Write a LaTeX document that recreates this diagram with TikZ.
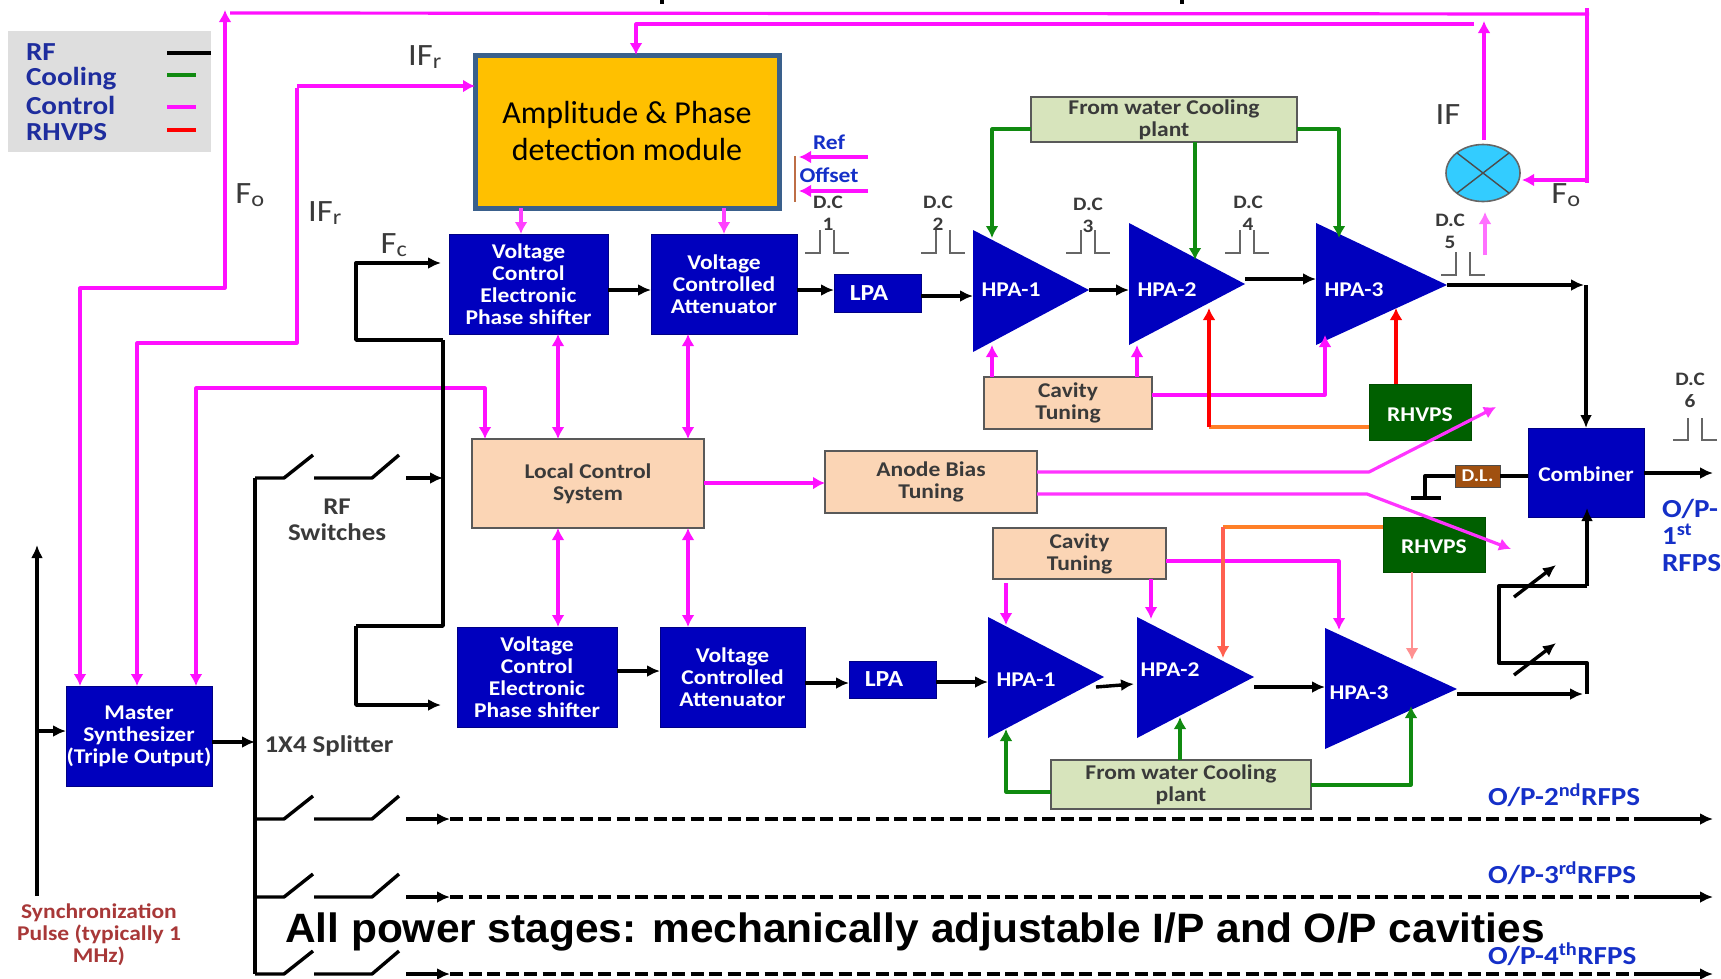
\documentclass[tikz,border=0pt]{standalone}
\usepackage{fontspec}
\setmainfont[FakeStretch=1.12]{Carlito}
\newfontfamily\ampf{Carlito}
\newfontfamily\arialf[FakeStretch=1.036]{Liberation Sans}
\usetikzlibrary{arrows.meta,shapes.geometric}
\definecolor{bblue}{HTML}{0000BE}
\definecolor{peach}{HTML}{FBD5B5}
\definecolor{lgreen}{HTML}{D7E4BC}
\definecolor{dgreen}{HTML}{006000}
\definecolor{ctlc}{HTML}{FF10FF}
\definecolor{coolc}{HTML}{108A10}
\definecolor{navy}{HTML}{1E2D9E}
\definecolor{opblue}{HTML}{1530C8}
\definecolor{maroon}{HTML}{A83838}
\definecolor{txt}{HTML}{3A3A3A}
\definecolor{ampfill}{HTML}{FFC000}
\definecolor{ampdraw}{HTML}{3A608C}
\definecolor{mixfill}{HTML}{33CCFF}
\definecolor{dlfill}{HTML}{A05010}
\definecolor{hvorange}{HTML}{FF7F27}
\definecolor{hvcoral}{HTML}{FF6050}
\definecolor{hvpink}{HTML}{FF9090}
\definecolor{brk}{HTML}{BE6E46}
\newcommand{\fs}[2]{\fontsize{#1}{#2}\selectfont}
\tikzset{
  every node/.style={inner sep=0pt,outer sep=0pt,align=center},
  lowered/.style={execute at begin node=\rule{0pt}{19pt}},
  blk/.style={fill=bblue,draw=bblue!70!black,line width=0.8pt,text=white,font=\bfseries\fs{21}{22}},
  pch/.style={fill=peach,draw=black!65,line width=1.6pt,text=txt,font=\bfseries\fs{21}{22}},
  grn/.style={fill=lgreen,draw=black!65,line width=1.6pt,text=txt,font=\bfseries\fs{21}{22}},
  rhv/.style={lowered,fill=dgreen,draw=dgreen!80!black,line width=1pt,text=white,font=\bfseries\fs{21}{22}},
  lab/.style={text=txt,font=\fs{31}{32}},
  small/.style={text=txt,font=\bfseries\fs{24}{26}},
  dclab/.style={text=txt,font=\bfseries\fs{19}{22}},
  oplab/.style={text=opblue,font=\bfseries\fs{26}{27}},
  leg/.style={text=navy,font=\bfseries\fs{26}{26},anchor=west},
  rf/.style={draw=black,line width=3.4pt,line join=round,-{Latex[length=13pt,width=12pt]}},
  rfn/.style={draw=black,line width=3.4pt,line join=round},
  dsh/.style={draw=black,line width=3.4pt,dash pattern=on 13pt off 5.5pt},
  ctl/.style={draw=ctlc,line width=3.2pt,line join=round,-{Latex[length=12pt,width=13pt]}},
  ctln/.style={draw=ctlc,line width=3.2pt,line join=round},
  ctld/.style={ctl,{Latex[length=12pt,width=13pt]}-{Latex[length=12pt,width=13pt]}},
  cool/.style={draw=coolc,line width=3.2pt,line join=round,-{Latex[length=12pt,width=13pt]}},
  hv/.style={line width=3.2pt,line join=round,-{Latex[length=12pt,width=13pt]}},
  pulse/.style={draw=black!60,line width=2.2pt},
  sw/.style={draw=black,line width=3.4pt,line join=round},
}
\newcommand{\bx}[7]{%
  \pgfmathsetmacro\cxx{(#2+#4)/2}\pgfmathsetmacro\cyy{(#3+#5)/2}%
  \pgfmathsetmacro\wwx{#4-#2}\pgfmathsetmacro\hhx{#5-#3}%
  \node[#6,minimum width=\wwx pt,minimum height=\hhx pt] (#1) at (\cxx,\cyy) {#7};}
\newcommand{\tri}[6]{%
  \fill[bblue] (#2,#3) -- (#5,#6) -- (#2,#4) -- cycle;
  \coordinate (#1) at (#5,#6);
  \coordinate (#1w) at (#2,#6);}
\newcommand{\pulsep}[3]{%
  \draw[pulse] (#1,#2) -- ++(15,0) -- ++(0,-#3);
  \draw[pulse] (#1+29,#2-#3) -- ++(0,#3) -- ++(15,0);}
\newcommand{\swt}[2]{%
  \draw[sw] (spl |- 0,#1) -- (284,#1) -- (313,#1-23);
  \draw[sw] (314,#1) -- (372,#1) -- (399,#1-23);}
\begin{document}
\begin{tikzpicture}[x=1pt,y=-1pt]
\useasboundingbox (0,0) rectangle (1721,978);
\fill[white] (0,0) rectangle (1721,978);
% cut-off stubs at the top edge
\fill[black] (660,0) rectangle (664,4);
\fill[black] (1180,0) rectangle (1184,4);
% legend
\bx{legend}{8}{31}{211}{152}{fill=black!13}{}
\node[leg] (lrf) at (26,52) {RF};
\node[leg] (lcool) at (26,79) {Cooling};
\node[leg] (lctl) at (26,105) {Control};
\node[leg] (lrh) at (26,132) {RHVPS};
\coordinate (la1) at (167,53); \coordinate (la2) at (211,53);
\coordinate (lb1) at (167,75); \coordinate (lb2) at (196,75);
\coordinate (lc1) at (167,107); \coordinate (lc2) at (196,107);
\coordinate (ld1) at (167,130); \coordinate (ld2) at (196,130);
\draw[rfn] (la1) -- (la2);
\draw[coolc,line width=3.2pt] (lb1) -- (lb2);
\draw[ctln] (lc1) -- (lc2);
\draw[red,line width=3.2pt] (ld1) -- (ld2);
% boxes
\bx{amp}{475}{55}{779}{208}{fill=ampfill,draw=ampdraw,line width=5pt,font=\ampf\fs{32}{37}}{Amplitude \& Phase\\detection module}
\bx{vps1}{449}{234}{608}{334}{blk}{Voltage\\Control\\Electronic\\Phase shifter}
\bx{vca1}{651}{234}{797}{334}{blk}{Voltage\\Controlled\\Attenuator}
\bx{lpa1}{834}{274}{921}{312}{blk,font=\bfseries\fs{23}{22}}{LPA\hspace{17pt}}
\bx{lcs}{472}{439}{704}{528}{pch}{Local Control\\System}
\bx{anode}{825}{451}{1037}{513}{pch}{Anode Bias\\Tuning}
\bx{cool1}{1031}{97}{1297}{142}{grn}{From water Cooling\\plant}
\bx{cav1}{984}{377}{1152}{429}{pch}{Cavity\\Tuning}
\bx{rh1}{1369}{384}{1471}{440}{rhv}{RHVPS}
\bx{comb}{1528}{428}{1644}{517}{blk,lowered}{Combiner}
\bx{dl}{1455}{465}{1500}{487}{fill=dlfill,draw=black!70,line width=1pt,text=white,font=\bfseries\fs{18}{20}}{D.L.}
\bx{vps2}{457}{627}{617}{727}{blk}{Voltage\\Control\\Electronic\\Phase shifter}
\bx{vca2}{660}{627}{805}{727}{blk}{Voltage\\Controlled\\Attenuator}
\bx{lpa2}{849}{661}{936}{698}{blk,font=\bfseries\fs{23}{22}}{LPA\hspace{17pt}}
\bx{cav2}{993}{528}{1166}{579}{pch}{Cavity\\Tuning}
\bx{rh2}{1383}{517}{1485}{572}{rhv}{RHVPS}
\bx{cool2}{1051}{760}{1311}{809}{grn}{From water Cooling\\plant}
\bx{master}{66}{686}{212}{786}{blk}{Master\\Synthesizer\\(Triple Output)}
\node[ellipse,fill=mixfill,draw=black!60,line width=1.6pt,minimum width=74pt,minimum height=57pt] (mix) at (1483,173) {};
\draw[black!70,line width=1.4pt] (mix.north west) -- (mix.south east) (mix.north east) -- (mix.south west);
% amplifiers
\tri{a1}{973}{230}{352}{1089}{290}
\tri{a2}{1129}{223}{345}{1245}{284}
\tri{a3}{1316}{223}{345}{1447}{285}
\tri{b1}{988}{617}{738}{1104}{677}
\tri{b2}{1137}{617}{738}{1254}{677}
\tri{b3}{1325}{628}{749}{1457}{689}
\tikzset{hpat/.style={text=white,font=\bfseries\fs{21}{22}}}
\node[hpat] (ta1) at (1011,290) {HPA-1};
\node[hpat] (ta2) at (1167,290) {HPA-2};
\node[hpat] (ta3) at (1354,290) {HPA-3};
\node[hpat] (tb1) at (1026,680) {HPA-1};
\node[hpat] (tb2) at (1170,670) {HPA-2};
\node[hpat] (tb3) at (1359,693) {HPA-3};
% free ends on amplifiers
\coordinate (ca1) at (992,238); \coordinate (ca2) at (1195,260); \coordinate (ca3) at (1339,238);
\coordinate (cta1) at (992,345); \coordinate (cta2) at (1137,345); \coordinate (cta3) at (1325,335);
\coordinate (ra2) at (1209,308); \coordinate (ra3) at (1396,308);
\coordinate (cb1) at (1006,729); \coordinate (cb2) at (1180,717); \coordinate (cb3) at (1411,706);
\coordinate (ctb1) at (1006,625); \coordinate (ctb2) at (1151,619); \coordinate (ctb3) at (1339,630);
\coordinate (rb2) at (1223,658); \coordinate (rb3) at (1412,660);
% splitter
\coordinate (spl) at (255,478);
\draw[rfn] (spl) -- (255,974);
\swt{478}{}\swt{819}{}\swt{897}{}\swt{974}{}
\coordinate (sa) at (406,478);
\draw[rf] (sa) -- (443,478);
% top feedback lines
\coordinate (topa) at (230,13); \coordinate (topb) at (1589,14); \coordinate (topc) at (1587,8); \coordinate (topd) at (1587,183);
\coordinate (arrf) at (225,10);
\draw[ctld] (master.north -| 80,0) -- (80,288) -- (225,288) -- (arrf);
\draw[ctln] (topa) -- (topb);
\draw[ctln] (topc) -- (topd);
\draw[ctl] (1587,180) -- (1522,180);
\coordinate (ifend) at (1484,21);
\draw[ctl] (1484,140) -- (ifend);
\draw[ctl] (1474,24) -- (636,24) -- (amp.north -| 636,0);
\draw[ctl,{Latex[length=12pt,width=13pt]}-] (master.north -| 137,0) -- (137,343) -- (297,343) -- (297,88);
\draw[ctl] (297,86) -- (amp.west |- 0,86);
\draw[ctld] (master.north -| 196,0) -- (196,388) -- (485,388) -- (lcs.north -| 485,0);
% amp module to blocks
\draw[ctl,draw=ctlc!80!white] (amp.south -| 521,0) -- (vps1.north -| 521,0);
\draw[ctl,draw=ctlc!80!white] (amp.south -| vca1.north) -- (vca1.north);
% ref / offset
\coordinate (rfa) at (868,157); \coordinate (rfb) at (799,157); \coordinate (ofa) at (868,191); \coordinate (ofb) at (799,191);
\draw[ctl] (rfa) -- (rfb);
\draw[ctl] (ofa) -- (ofb);
\draw[draw=brk,line width=2pt] (795,156) -- (795,202);
% double arrows
\draw[ctld] (vps1.south -| 558,0) -- (lcs.north -| 558,0);
\draw[ctld] (vca1.south -| 688,0) -- (lcs.north -| 688,0);
\draw[ctld] (lcs.south -| 558,0) -- (vps2.north -| 558,0);
\draw[ctld] (lcs.south -| 688,0) -- (vca2.north -| 688,0);
\draw[ctl] (lcs.east |- 0,483) -- (anode.west |- 0,483);
% anode lines
\coordinate (ana) at (1496,407); \coordinate (anb) at (1511,549);
\draw[ctl,draw=ctlc!85!white] (anode.east |- 0,472) -- (1369,472) -- (ana);
\draw[ctl,draw=ctlc!85!white] (anode.east |- 0,494) -- (1367,494) -- (anb);
% RF chains
\coordinate (fca) at (443,340);
\draw[rf] (fca) -- (356,340) -- (356,263) -- (441,263);
\draw[rfn] (fca) -- (443,626) -- (356,626);
\draw[rf] (356,626) -- (356,705) -- (441,705);
\draw[rf] (vps1.east |- 0,290) -- (vca1.west |- 0,290);
\draw[rf] (vca1.east |- 0,290) -- (lpa1.west |- 0,290);
\draw[rf] (lpa1.east |- 0,296) -- (a1w |- 0,296);
\draw[rf] (a1) -- (a2w |- a1);
\draw[rf] (1245,279) -- (a3w |- 0,279);
\draw[rf] (a3) -- (1584,285);
\draw[rf] (1586,285) -- (comb.north);
\draw[rf] (comb.east |- 0,473) -- (1713,473);
\draw[rfn] (comb.west |- dl) -- (dl.east);
\draw[rfn] (dl.west) -- (1425,476) -- (1425,498);
\draw[rfn] (1411,498) -- (1441,498);
\draw[rf] (vps2.east |- 0,671) -- (vca2.west |- 0,671);
\draw[rf] (vca2.east |- 0,683) -- (lpa2.west |- 0,683);
\draw[rf] (lpa2.east |- 0,682) -- (b1w |- 0,682);
\draw[rf] (1096,687) -- (1134,684);
\draw[rf] (1254,687) -- (b3w |- 0,687);
\draw[rf] (1457,694) -- (1583,694);
\draw[rfn] (1587,694) -- (1587,663) -- (1499,663) -- (1499,586) -- (1587,586);
\draw[rf] (1587,586) -- (1587,508);
\coordinate (sla) at (1514,597); \coordinate (slb) at (1556,565); \coordinate (slc) at (1514,675); \coordinate (sld) at (1556,643);
\draw[rf] (sla) -- (slb);
\draw[rf] (slc) -- (sld);
% sync + master
\coordinate (sya) at (37,896); \coordinate (syb) at (37,545);
\draw[rf] (sya) -- (syb);
\draw[rf] (37,731) -- (master.west |- 0,731);
\draw[rf] (master.east |- 0,742) -- (spl |- 0,742);
% dashed outputs
\foreach \yy/\nm in {819/a,897/b,974/c}{
  \coordinate (da\nm) at (406,\yy);
  \coordinate (db\nm) at (1644,\yy);
  \coordinate (dc\nm) at (1713,\yy);
  \draw[rf] (da\nm) -- (450,\yy);
  \draw[dsh] (450,\yy) -- (db\nm);
  \draw[rf] (db\nm) -- (dc\nm);
}
% cooling
\draw[cool] (cool1.west |- 0,129) -- (992,129) -- (ca1);
\draw[cool] (cool1.south -| ca2) -- (ca2);
\draw[cool] (cool1.east |- 0,129) -- (1339,129) -- (ca3);
\draw[cool] (cool2.west |- 0,792) -- (1006,792) -- (cb1);
\draw[cool] (cool2.north -| cb2) -- (cb2);
\draw[cool] (cool2.east |- 0,785) -- (1411,785) -- (cb3);
% cavity tuning
\draw[ctl] (cav1.north -| cta1) -- (cta1);
\draw[ctl] (cav1.north -| cta2) -- (cta2);
\draw[ctl] (cav1.east |- 0,395) -- (1325,395) -- (cta3);
\draw[ctl] (1006,583) -- (ctb1);
\draw[ctl] (cav2.south -| ctb2) -- (ctb2);
\draw[ctl] (cav2.east |- 0,561) -- (1339,561) -- (ctb3);
% RHVPS
\draw[hv,red] (rh1.north -| ra3) -- (ra3);
\draw[hvorange,line width=3.2pt] (rh1.west |- 0,427) -- (1209,427);
\draw[hv,red] (1209,427) -- (ra2);
\draw[hvorange,line width=3.2pt] (rh2.west |- 0,527) -- (1223,527);
\draw[hv,hvcoral] (1223,527) -- (rb2);
\draw[hv,hvpink,line width=2.4pt] (rh2.south -| rb3) -- (rb3);
\draw[ctl,draw=ctlc!60!white] (1485,255) -- (1485,212);
% pulses
\pulsep{805}{253}{23}
\pulsep{921}{253}{23}
\pulsep{1066}{253}{23}
\pulsep{1225}{253}{23}
\pulsep{1441}{275}{23}
\pulsep{1673}{440}{22}
\node[dclab] (dc1) at (828,213) {D.C\\1};
\node[dclab] (dc2) at (938,213) {D.C\\2};
\node[dclab] (dc3) at (1088,215) {D.C\\3};
\node[dclab] (dc4) at (1248,213) {D.C\\4};
\node[dclab] (dc5) at (1450,231) {D.C\\5};
\node[dclab] (dc6) at (1690,390) {D.C\\6};
% labels
\node[lab] (ifr1) at (425,57) {IF\textsubscript{r}};
\node[lab] (ifr2) at (325,213) {IF\textsubscript{r}};
\node[lab] (fo1) at (250,195) {F\textsubscript{o}};
\node[lab] (fc) at (394,245) {F\textsubscript{c}};
\node[lab] (ifl) at (1448,115) {IF};
\node[lab] (fo2) at (1566,195) {F\textsubscript{o}};
\node[text=opblue,font=\bfseries\fs{21}{22}] (ref) at (829,142) {Ref};
\node[text=opblue,font=\bfseries\fs{21}{22}] (offs) at (829,175) {Offset};
\node[small] (rfsw) at (337,520) {RF\\Switches};
\node[small] (spt) at (329,746) {1X4 Splitter};
\node[text=maroon,font=\bfseries\fs{21}{22}] (syn) at (99,935) {Synchronization\\Pulse (typically  1\\MHz)};
\node[oplab,anchor=west] (op2) at (1488,795) {O/P-2\textsuperscript{nd}RFPS};
\node[oplab,anchor=west] (op3) at (1488,873) {O/P-3\textsuperscript{rd}RFPS};
\node[oplab,anchor=west] (op4) at (1488,954) {O/P-4\textsuperscript{th}RFPS};
\node[oplab,align=left,anchor=west] (op1) at (1662,535) {O/P-\\1\textsuperscript{st}\\RFPS};
\node[font=\arialf\bfseries\fs{41}{44},text=black,anchor=west] (big) at (285,932) {All power stages: mechanically adjustable I/P and O/P cavities};
\end{tikzpicture}
\end{document}
